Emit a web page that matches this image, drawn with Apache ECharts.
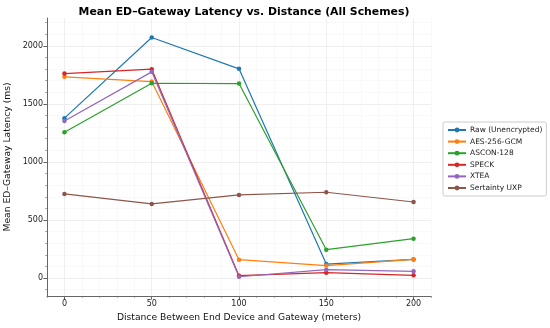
<!DOCTYPE html>
<html><head><meta charset="utf-8">
<script src="https://cdn.jsdelivr.net/npm/echarts@6/dist/echarts.min.js"></script>
<style>html,body{margin:0;padding:0;background:#fff}#c{width:550px;height:328px}</style>
</head><body><div id="c"></div>
<script>
const distances = [0, 50, 100, 150, 200];
const raw = [1377, 2072, 1802, 120, 160];
const aes = [1733, 1692, 158, 107, 161];
const ascon = [1256, 1678, 1675, 244, 339];
const speck = [1761, 1799, 20, 46, 23];
const xtea = [1353, 1776, 11, 72, 58];
const sertainty = [724, 638, 716, 739, 655];
const seriesNames = ['Raw (Unencrypted)', 'AES-256-GCM', 'ASCON-128', 'SPECK', 'XTEA', 'Sertainty UXP'];
const seriesData = [raw, aes, ascon, speck, xtea, sertainty];
const colors = ['#1f77b4', '#ff7f0e', '#2ca02c', '#d62728', '#9467bd', '#8c564b'];
const xTicks = [0, 50, 100, 150, 200];
const yTicks = [0, 500, 1000, 1500, 2000];
const xMinor = []; for (let v = -10; v <= 210; v += 10) xMinor.push(v);
const yMinor = []; for (let v = -100; v <= 2200; v += 100) yMinor.push(v);

const font = 'DejaVu Sans';
const chart = echarts.init(document.getElementById('c'), null, {renderer: 'canvas'});
const baseX = {type: 'value', min: -10, max: 210, position: 'bottom'};
const baseY = {type: 'value', min: -155, max: 2240, position: 'left'};
chart.setOption({
  animation: false,
  color: colors,
  title: {text: 'Mean ED\u2013Gateway Latency vs. Distance (All Schemes)', left: 239, textAlign: 'center', top: 2,
    textStyle: {fontFamily: font, fontSize: 10.9, fontWeight: 'bold', color: '#000'}},
  grid: {left: 47, right: 119, top: 18, bottom: 32, outerBoundsMode: 'none', containLabel: false},
  legend: {orient: 'vertical', left: 443, top: 122, itemWidth: 18, itemHeight: 6, itemGap: 3.6,
    padding: [4, 4, 4, 4], borderColor: '#ccc', borderWidth: 1, borderRadius: 2,
    textStyle: {fontFamily: font, fontSize: 7.5, color: '#222', padding: [0, 0, 0, -1]}},
  xAxis: [
    Object.assign({}, baseX, {
      name: 'Distance Between End Device and Gateway (meters)', nameLocation: 'middle', nameGap: 16,
      nameTextStyle: {fontFamily: font, fontSize: 9.2, color: '#111'},
      axisLine: {show: true, onZero: false, lineStyle: {color: '#666', width: 1}},
      axisTick: {show: true, length: 3.5, customValues: xTicks, lineStyle: {color: '#555'}},
      axisLabel: {show: true, customValues: xTicks, fontFamily: font, fontSize: 8, color: '#222', margin: 4,
        formatter: v => String(v)},
      splitLine: {show: true, lineStyle: {color: '#e3e3e3', width: 0.7}}
    }),
    Object.assign({}, baseX, {
      axisLine: {show: false, onZero: false},
      axisTick: {show: true, length: 2, customValues: xMinor, lineStyle: {color: '#777', width: 0.6}},
      axisLabel: {show: false},
      splitLine: {show: true, lineStyle: {color: '#f3f3f3', width: 0.5}}
    })
  ],
  yAxis: [
    Object.assign({}, baseY, {
      name: 'Mean ED\u2013Gateway Latency (ms)', nameLocation: 'middle', nameGap: 30,
      nameTextStyle: {fontFamily: font, fontSize: 9.2, color: '#111'},
      axisLine: {show: true, onZero: false, lineStyle: {color: '#666', width: 1}},
      axisTick: {show: true, length: 3.5, customValues: yTicks, lineStyle: {color: '#555'}},
      axisLabel: {show: true, customValues: yTicks, fontFamily: font, fontSize: 8, color: '#222', margin: 4,
        formatter: v => String(v)},
      splitLine: {show: true, lineStyle: {color: '#e3e3e3', width: 0.7}}
    }),
    Object.assign({}, baseY, {
      axisLine: {show: false, onZero: false},
      axisTick: {show: true, length: 2, customValues: yMinor, lineStyle: {color: '#777', width: 0.6}},
      axisLabel: {show: false},
      splitLine: {show: true, lineStyle: {color: '#f3f3f3', width: 0.5}}
    })
  ],
  series: seriesNames.map((name, i) => ({
    name: name, type: 'line', xAxisIndex: 0, yAxisIndex: 0,
    data: distances.map((d, j) => [d, seriesData[i][j]]),
    symbol: 'circle', symbolSize: 4.5, z: 3,
    lineStyle: {width: 1.2, color: colors[i]},
    itemStyle: {color: colors[i]}
  }))
});
</script></body></html>
